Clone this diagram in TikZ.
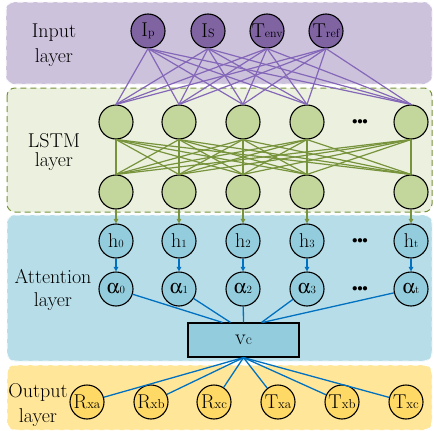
\documentclass[tikz,border=0pt]{standalone}
\usepackage{mathptmx}
\usepackage[Symbol]{upgreek}
\usetikzlibrary{arrows.meta}

\definecolor{inband}{HTML}{CDC2DC}
\definecolor{innode}{HTML}{8064A2}
\definecolor{inline}{HTML}{8467B8}
\definecolor{lsband}{HTML}{EBF1DE}
\definecolor{lsnode}{HTML}{C3D69B}
\definecolor{lsline}{HTML}{77933C}
\definecolor{atband}{HTML}{B7DEE8}
\definecolor{atnode}{HTML}{93CDDD}
\definecolor{atline}{HTML}{0070C0}
\definecolor{outband}{HTML}{FFE699}
\definecolor{outnode}{HTML}{FFD966}

% main letter followed by a small index set on the baseline
\newcommand\nsub[3][12]{#2{\fontsize{#1}{#1}\selectfont #3}}
\newcommand\alp{$\upalpha$}
% heavy ellipsis made of three bullets
\newcommand\hdots{$\bullet\kern-1.8pt\bullet\kern-1.8pt\bullet$}

\tikzset{
  band/.style={rounded corners=8pt, line width=1pt, dash pattern=on 6pt off 4pt},
  neuron/.style={circle, draw=black, line width=1.1pt, minimum size=34pt,
                 inner sep=0pt, font=\fontsize{20}{20}\selectfont},
  layername/.style={align=center, font=\fontsize{20}{25}\selectfont},
  dotsnode/.style={font=\fontsize{11}{11}\selectfont, inner sep=0pt},
  inedge/.style={draw=inline, line width=1.2pt},
  lsedge/.style={draw=lsline, line width=1.2pt},
  atedge/.style={draw=atline, line width=1.3pt},
  lsarrow/.style={lsedge, -{Triangle[length=4.5pt,width=4.5pt]}},
  atarrow/.style={atedge, -{Triangle[length=4.5pt,width=4.5pt]}},
}

\begin{document}
\begin{tikzpicture}[x=1pt,y=-1pt]
\useasboundingbox (0,0) rectangle (434,431);

% layer bands
\draw[band, fill=inband, draw=white!85!inband] (6,2) rectangle (432,84);
\draw[band, fill=lsband, draw=lsline] (7,88) rectangle (432,212);
\draw[band, fill=atband, draw=white!80!atband] (7,215) rectangle (432,361);
\draw[band, fill=outband, draw=white] (7,365) rectangle (432,430);

% layer names
\node[layername] (nin) at (54,45.5) {Input\\layer};
\node[layername, font=\fontsize{20}{19.5}\selectfont] (nls) at (54,152) {LSTM\\layer};
\node[layername, font=\fontsize{20}{23}\selectfont] (nat) at (53,290) {Attention\\layer};
\node[layername] (nout) at (38,405) {Output\\layer};

% input neurons
\node[neuron, fill=innode] (i1) at (148,31) {\nsub{I}{p}};
\node[neuron, fill=innode] (i2) at (208,31) {\nsub{I}{S}};
\node[neuron, fill=innode] (i3) at (267,31) {\nsub{T}{env}};
\node[neuron, fill=innode] (i4) at (326,31) {\nsub{T}{ref}};

% LSTM neurons
\foreach \k/\x in {1/116,2/179,3/243,4/307,5/411} {
  \node[neuron, fill=lsnode] (u\k) at (\x,122) {};
  \node[neuron, fill=lsnode] (d\k) at (\x,192) {};
}
\node[dotsnode] (ldots) at (360,122) {\hdots};

% attention neurons
\node[neuron, fill=atnode] (h1) at (116,241) {\nsub[11]{h}{0}};
\node[neuron, fill=atnode] (h2) at (179,241) {\nsub[11]{h}{1}};
\node[neuron, fill=atnode] (h3) at (243,241) {\nsub[11]{h}{2}};
\node[neuron, fill=atnode] (h4) at (307,241) {\nsub[11]{h}{3}};
\node[neuron, fill=atnode] (h5) at (411,241) {\nsub[11]{h}{t}};
\node[dotsnode] (hdots) at (360,241) {\hdots};

\node[neuron, fill=atnode] (a1) at (116,289) {\nsub[11]{\alp}{0}};
\node[neuron, fill=atnode] (a2) at (179,289) {\nsub[11]{\alp}{1}};
\node[neuron, fill=atnode] (a3) at (243,289) {\nsub[11]{\alp}{2}};
\node[neuron, fill=atnode] (a4) at (307,289) {\nsub[11]{\alp}{3}};
\node[neuron, fill=atnode] (a5) at (411,289) {\nsub[11]{\alp}{t}};
\node[dotsnode] (adots) at (360,289) {\hdots};

% context vector
\node[draw=black, line width=1.1pt, fill=atnode, minimum width=111pt,
      minimum height=34pt, inner sep=0pt] (vc) at (243.5,340)
      {\fontsize{22}{22}\selectfont v{\fontsize{15}{15}\selectfont c}};

% output neurons
\node[neuron, fill=outnode] (o1) at (87,402) {\nsub[13]{R}{xa}};
\node[neuron, fill=outnode] (o2) at (151,402) {\nsub[13]{R}{xb}};
\node[neuron, fill=outnode] (o3) at (214,402) {\nsub[13]{R}{xc}};
\node[neuron, fill=outnode] (o4) at (278,402) {\nsub[13]{T}{xa}};
\node[neuron, fill=outnode] (o5) at (342,402) {\nsub[13]{T}{xb}};
\node[neuron, fill=outnode] (o6) at (406,402) {\nsub[13]{T}{xc}};

% input -> LSTM (fully connected)
\foreach \i in {1,...,4}
  \foreach \k in {1,...,5}
    \draw[inedge] (i\i.south) -- (u\k.north);

% LSTM top -> LSTM bottom (fully connected)
\foreach \i in {1,...,5}
  \foreach \k in {1,...,5}
    \draw[lsedge] (u\i.south) -- (d\k.north);

% LSTM -> hidden states -> attention weights
\foreach \k in {1,...,5} {
  \draw[lsarrow] (d\k.south) -- (h\k.north);
  \draw[atarrow] (h\k.south) -- (a\k.north);
}

% attention weights -> context vector
\coordinate (c1) at ([xshift=-21pt]vc.north);
\coordinate (c2) at ([xshift=-13pt]vc.north);
\coordinate (c3) at (vc.north);
\coordinate (c4) at ([xshift=18pt]vc.north);
\coordinate (c5) at ([xshift=19pt]vc.north);
\foreach \k in {1,...,5}
  \draw[atedge] (a\k) -- (c\k);

% context vector -> outputs
\foreach \k in {1,...,6}
  \draw[atedge] (vc.south) -- (o\k);
\end{tikzpicture}
\end{document}
